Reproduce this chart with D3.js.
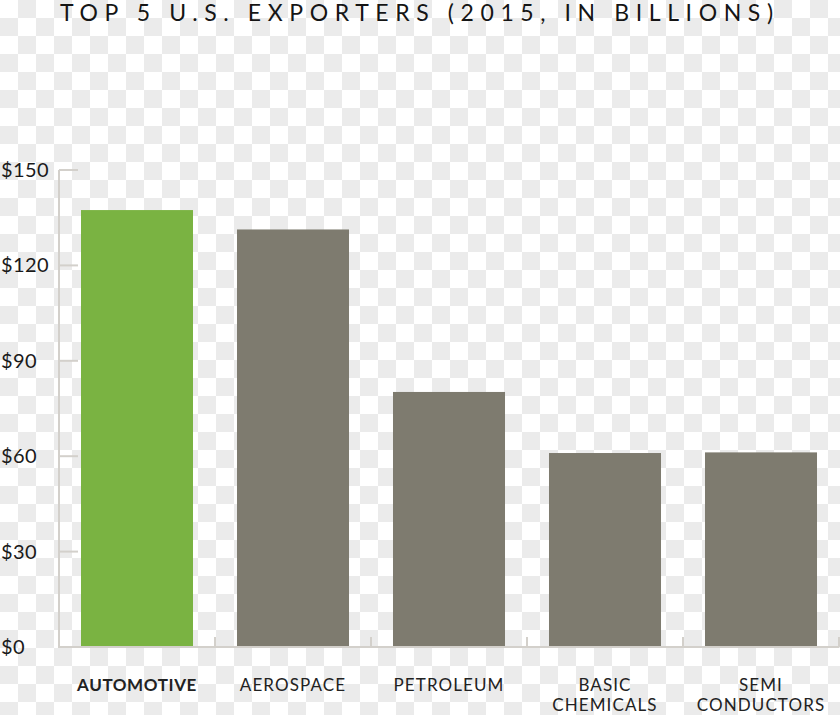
<!doctype html>
<html lang="en">
<head>
	<meta charset="UTF-8">
	<title>Top 5 U.S. Exporters</title>
	<style>
		html, body {
			margin: 0;
			padding: 0;
			background: #fff;
		}

		svg {
			display: block;
		}

		.title {
			font-family: 'Lato', sans-serif;
			font-size: 23px;
			letter-spacing: 6.6px;
			fill: #151515;
		}

		.y-label {
			font-family: 'Lato', sans-serif;
			font-size: 20px;
			letter-spacing: 0.4px;
			fill: #1a1a1a;
		}

		.x-label {
			font-family: 'Lato', sans-serif;
			font-size: 17px;
			letter-spacing: 1.1px;
			fill: #222;
			text-anchor: middle;
		}

		.x-label.is-active {
			font-weight: bold;
			letter-spacing: 0.6px;
		}
	</style>
</head>
<body>
	<script src="https://cdn.jsdelivr.net/npm/d3@7/dist/d3.min.js"></script>
	<script>
		var categories = [['AUTOMOTIVE'], ['AEROSPACE'], ['PETROLEUM'], ['BASIC', 'CHEMICALS'], ['SEMI', 'CONDUCTORS']],
			exports2015 = [137.4, 131.3, 80.2, 61.0, 61.2],
			yTicks = [0, 30, 60, 90, 120, 150],
			highlight = 'AUTOMOTIVE';

		var w = 840,
			h = 715,
			plotLeft = 59,
			plotRight = 839,
			plotTop = 170,
			plotBottom = 647,
			cell = 18;

		var svg = d3.select('body')
			.append('svg')
			.attr('width', w)
			.attr('height', h);

		var xScale,
			yScale;


		/**
		* checkered backdrop, like the source image
		* @returns {undefined}
		*/
		var drawBackdrop = function() {
			var pattern = svg.append('defs')
				.append('pattern')
				.attr('id', 'checks')
				.attr('width', cell * 2)
				.attr('height', cell * 2)
				.attr('patternUnits', 'userSpaceOnUse');

			pattern.append('rect')
				.attr('width', cell * 2)
				.attr('height', cell * 2)
				.attr('fill', '#fff');

			pattern.selectAll('rect.sq')
				.data([[1, 0], [0, 1]])
				.enter()
				.append('rect')
				.attr('class', 'sq')
				.attr('x', function(d) { return d[0] * cell; })
				.attr('y', function(d) { return d[1] * cell; })
				.attr('width', cell)
				.attr('height', cell)
				.attr('fill', '#ebebeb');

			svg.append('rect')
				.attr('width', w)
				.attr('height', h)
				.attr('fill', 'url(#checks)');
		};


		/**
		* initialize scales
		* @returns {undefined}
		*/
		var initScales = function() {
			xScale = d3.scaleBand()
				.domain(d3.range(categories.length))
				.range([plotLeft, plotRight])
				.paddingInner(0.282)
				.paddingOuter(0.141);

			yScale = d3.scaleLinear()
				.domain([0, 150])
				.range([plotBottom, plotTop]);
		};


		/**
		* axis lines, ticks and labels
		* @returns {undefined}
		*/
		var drawAxes = function() {
			var axisColor = '#d3d0cb';

			svg.append('line')
				.attr('x1', plotLeft).attr('x2', plotLeft)
				.attr('y1', plotTop).attr('y2', plotBottom)
				.attr('stroke', axisColor)
				.attr('stroke-width', 2);

			svg.selectAll('line.y-tick')
				.data(yTicks)
				.enter()
				.append('line')
				.attr('class', 'y-tick')
				.attr('x1', plotLeft)
				.attr('x2', plotLeft + 19)
				.attr('y1', function(d) { return yScale(d); })
				.attr('y2', function(d) { return yScale(d); })
				.attr('stroke', axisColor)
				.attr('stroke-width', 2);

			svg.selectAll('text.y-label')
				.data(yTicks)
				.enter()
				.append('text')
				.attr('class', 'y-label')
				.attr('x', 1)
				.attr('y', function(d) { return yScale(d) + 7; })
				.text(function(d) { return '$' + d; });

			// band edges along the baseline
			var edges = d3.range(categories.length).map(function(i) {
				return xScale(i) + xScale.bandwidth() + xScale.step() * xScale.paddingInner() / 2;
			});

			svg.selectAll('line.x-tick')
				.data(edges)
				.enter()
				.append('line')
				.attr('class', 'x-tick')
				.attr('x1', function(d) { return d; })
				.attr('x2', function(d) { return d; })
				.attr('y1', plotBottom - 10)
				.attr('y2', plotBottom)
				.attr('stroke', axisColor)
				.attr('stroke-width', 2);
		};


		/**
		* draw the bars
		* @returns {undefined}
		*/
		var drawBars = function() {
			svg.selectAll('rect.bar')
				.data(exports2015)
				.enter()
				.append('rect')
				.attr('class', 'bar')
				.attr('x', function(d, i) { return xScale(i); })
				.attr('y', function(d) { return yScale(d); })
				.attr('width', xScale.bandwidth())
				.attr('height', function(d) { return plotBottom - yScale(d); })
				.attr('fill', function(d, i) {
					return categories[i][0] === highlight ? '#7ab342' : '#7e7b6f';
				});

			// baseline over the bars
			svg.append('line')
				.attr('x1', plotLeft - 1).attr('x2', plotRight)
				.attr('y1', plotBottom).attr('y2', plotBottom)
				.attr('stroke', '#d3d0cb')
				.attr('stroke-width', 2);

			var labels = svg.selectAll('text.x-label')
				.data(categories)
				.enter()
				.append('text')
				.attr('class', function(d) {
					return 'x-label' + (d[0] === highlight ? ' is-active' : '');
				})
				.attr('x', function(d, i) { return xScale(i) + xScale.bandwidth() / 2; })
				.attr('y', 691);

			labels.selectAll('tspan')
				.data(function(d) { return d; })
				.enter()
				.append('tspan')
				.attr('x', function() { return d3.select(this.parentNode).attr('x'); })
				.attr('dy', function(d, i) { return i ? 20 : 0; })
				.text(function(d) { return d; });
		};


		/**
		* chart title
		* @returns {undefined}
		*/
		var drawTitle = function() {
			svg.append('text')
				.attr('class', 'title')
				.attr('x', 60)
				.attr('y', 21)
				.text('TOP 5 U.S. EXPORTERS (2015, IN BILLIONS)');
		};


		drawBackdrop();
		initScales();
		drawAxes();
		drawBars();
		drawTitle();
	</script>
</body>
</html>
